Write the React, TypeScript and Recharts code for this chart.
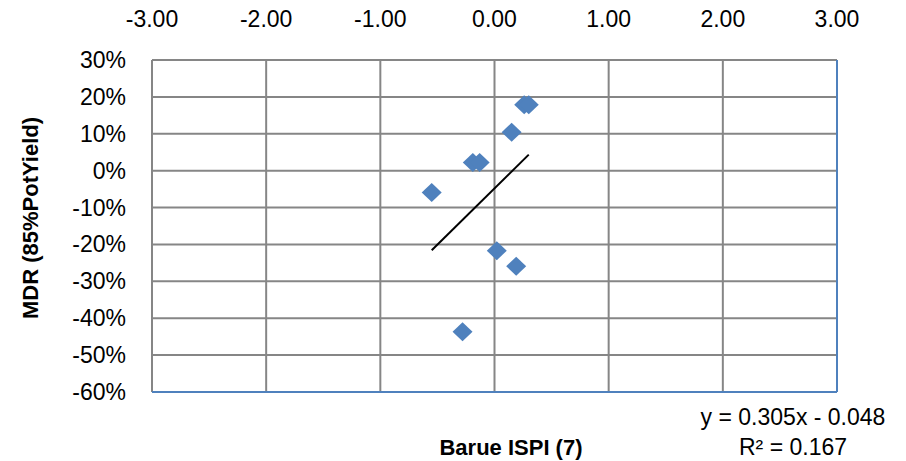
import { ScatterChart, Scatter, XAxis, YAxis, CartesianGrid, ReferenceLine } from 'recharts';

// Barue ISPI (7) vs MDR (85%PotYield)
const ispiValues = [-0.55, -0.19, -0.13, 0.15, 0.26, 0.3, 0.02, 0.19, -0.28];
const mdrValues = [-0.059, 0.022, 0.022, 0.104, 0.179, 0.179, -0.217, -0.259, -0.437];

const xTicks = [-3, -2, -1, 0, 1, 2, 3];
const yTicks = [-0.6, -0.5, -0.4, -0.3, -0.2, -0.1, 0, 0.1, 0.2, 0.3];

const trendSlope = 0.305;
const trendIntercept = -0.048;
const trendLabel = 'y = 0.305x - 0.048';
const r2Label = 'R² = 0.167';

const points = ispiValues.map((x, i) => ({ x, y: mdrValues[i] }));
const xMin = Math.min(...ispiValues);
const xMax = Math.max(...ispiValues);

const FONT = '"Liberation Sans", Arial, sans-serif';
const GRID = '#868686';
const BLUE = '#4f81bd';

const Diamond = (props: any) => {
  const { cx, cy } = props;
  if (cx == null || cy == null) return null;
  return (
    <polygon
      points={`${cx},${cy - 9.5} ${cx + 10},${cy} ${cx},${cy + 9.5} ${cx - 10},${cy}`}
      fill={BLUE}
    />
  );
};

const XTick = (props: any) => {
  const { x, payload } = props;
  return (
    <text x={x} y={27} textAnchor="middle" fontFamily={FONT} fontSize={23} fill="#000">
      {Number(payload.value).toFixed(2)}
    </text>
  );
};

const YTick = (props: any) => {
  const { y, payload } = props;
  return (
    <text x={126} y={y + 8} textAnchor="end" fontFamily={FONT} fontSize={23} fill="#000">
      {`${Math.round(payload.value * 100)}%`}
    </text>
  );
};

export default function App() {
  return (
    <div style={{ position: 'absolute', left: 0, top: 0, width: 906, height: 461, background: '#fff' }}>
      <ScatterChart
        width={906}
        height={461}
        margin={{ top: 20, right: 69, bottom: 69, left: 82 }}
      >
        <CartesianGrid stroke={GRID} strokeWidth={2} />
        <XAxis
          type="number"
          dataKey="x"
          orientation="top"
          height={40}
          domain={[-3, 3]}
          ticks={xTicks}
          axisLine={false}
          tickLine={false}
          tick={<XTick />}
          allowDataOverflow
        />
        <YAxis
          type="number"
          dataKey="y"
          width={70}
          domain={[-0.6, 0.3]}
          ticks={yTicks}
          axisLine={false}
          tickLine={false}
          tick={<YTick />}
          allowDataOverflow
        />
        <ReferenceLine x={3} stroke={BLUE} strokeWidth={2} />
        <ReferenceLine y={-0.6} stroke={BLUE} strokeWidth={2} />
        <Scatter data={points} shape={<Diamond />} isAnimationActive={false} />
        <ReferenceLine
          segment={[
            { x: xMin, y: trendSlope * xMin + trendIntercept },
            { x: xMax, y: trendSlope * xMax + trendIntercept },
          ]}
          stroke="#000"
          strokeWidth={2}
        />
      </ScatterChart>
      <svg
        width={906}
        height={461}
        style={{ position: 'absolute', left: 0, top: 0, pointerEvents: 'none' }}
      >
        <text
          x={0}
          y={0}
          transform="translate(38, 218) rotate(-90)"
          textAnchor="middle"
          fontFamily={FONT}
          fontSize={22}
          fontWeight="bold"
          fill="#000"
        >
          MDR (85%PotYield)
        </text>
        <text x={511} y={455} textAnchor="middle" fontFamily={FONT} fontSize={22} fontWeight="bold" fill="#000">
          Barue ISPI (7)
        </text>
        <text x={793} y={425} textAnchor="middle" fontFamily={FONT} fontSize={23} fill="#000">
          {trendLabel}
        </text>
        <text x={793} y={455} textAnchor="middle" fontFamily={FONT} fontSize={23} fill="#000">
          {r2Label}
        </text>
      </svg>
    </div>
  );
}
